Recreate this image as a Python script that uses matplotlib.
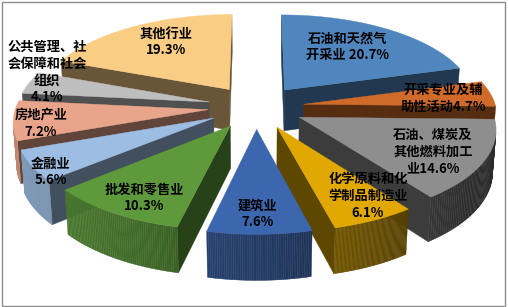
import numpy as np
import matplotlib.pyplot as plt
from matplotlib.patches import Polygon, Rectangle
from matplotlib.colors import to_rgb

plt.rcParams['font.family'] = ['Noto Sans CJK SC', 'DejaVu Sans']

# data
categories = ['石油和天然气\n开采业', '开采专业及辅\n助性活动', '石油、煤炭及\n其他燃料加工\n业',
              '化学原料和化\n学制品制造业', '建筑业', '批发和零售业', '金融业', '房地产业',
              '公共管理、社\n会保障和社会\n组织', '其他行业']
shares = [20.7, 4.7, 14.6, 6.1, 7.6, 10.3, 5.6, 7.2, 4.1, 19.3]
joiners = [' ', '', '', '\n', '\n', '\n', '\n', '\n', '\n', '\n']

# style / layout
top_colors = ['#4F86BE', '#D06A28', '#8E8E8E', '#E0A800', '#3C66AE',
              '#5E9A3C', '#9DBDE2', '#E9A58B', '#BEBEBE', '#FACD85']
label_pos = [(348, 47), (443, 98), (433, 152), (368, 196), (258, 214),
             (144, 198), (51, 172), (41, 124), (47, 72), (166, 42)]

# 3d view
phi = np.radians(27)
cph, sph = np.cos(phi), np.sin(phi)
D, S, X0, Y0 = 7.8, 1500, 256, 107
h, e = 0.245, 0.25
cam = np.array([0, -D * cph, D * sph])


def proj(p):
    x, y, z = p
    d = D + y * cph - z * sph
    return (X0 + S * x / d, Y0 - S * (y * sph + z * cph) / d)


def shade(col, f):
    r, g, b = to_rgb(col)
    return (r * f, g * f, b * f)


def visible(n, p):
    return np.dot(n, cam - np.array(p)) > 0


fig = plt.figure(figsize=(5.08, 3.07), dpi=100)
ax = fig.add_axes([0, 0, 1, 1])
ax.set_xlim(0, 508)
ax.set_ylim(307, 0)
ax.axis('off')

total = sum(shares)
slices = []
cum = 0
for i, v in enumerate(shares):
    a1 = np.radians(90 - 360 * cum / total)
    a2 = np.radians(90 - 360 * (cum + v) / total)
    cum += v
    mid = (a1 + a2) / 2
    ox, oy = e * np.cos(mid), e * np.sin(mid)
    slices.append((oy + 0.5 * np.sin(mid), i, a1, a2, ox, oy))

# back slices first
slices.sort(key=lambda t: -t[0])
for z, (_, i, a1, a2, ox, oy) in enumerate(slices):
    col = top_colors[i]
    th = np.linspace(a1, a2, 60)
    top = [(ox + np.cos(t), oy + np.sin(t), 0) for t in th]
    bot = [(ox + np.cos(t), oy + np.sin(t), -h) for t in th]
    tip_t, tip_b = (ox, oy, 0), (ox, oy, -h)
    faces = []
    # radial walls
    n1 = np.array([-np.sin(a1), np.cos(a1), 0])
    if visible(n1, tip_t):
        faces.append(([tip_t, top[0], bot[0], tip_b], shade(col, 0.42)))
    n2 = np.array([np.sin(a2), -np.cos(a2), 0])
    if visible(n2, tip_t):
        faces.append(([tip_t, top[-1], bot[-1], tip_b], shade(col, 0.42)))
    # outer wall
    for k in range(len(th) - 1):
        tm = (th[k] + th[k + 1]) / 2
        n = np.array([np.cos(tm), np.sin(tm), 0])
        if visible(n, top[k]):
            f = np.clip(0.52 + 0.3 * np.cos(tm - np.radians(190)), 0.3, 0.85)
            faces.append(([top[k], top[k + 1], bot[k + 1], bot[k]], shade(col, f)))
    for pts, fc in faces:
        ax.add_patch(Polygon([proj(p) for p in pts], closed=True, fc=fc, ec=fc,
                             lw=0.3, zorder=2 * z + 1))
    ax.add_patch(Polygon([proj(p) for p in [tip_t] + top], closed=True, fc=col,
                         ec=col, lw=0.3, zorder=2 * z + 2))

for i, (x, y) in enumerate(label_pos):
    txt = categories[i] + joiners[i] + f'{shares[i]}%'
    ax.text(x, y, txt, ha='center', va='center', fontsize=9.5, fontweight='bold',
            linespacing=1.25, zorder=50)

ax.add_patch(Rectangle((1.5, 1.5), 503, 304, fill=False, ec='#8C8C8C', lw=1, zorder=60))

fig.savefig('out.png', dpi=100)
